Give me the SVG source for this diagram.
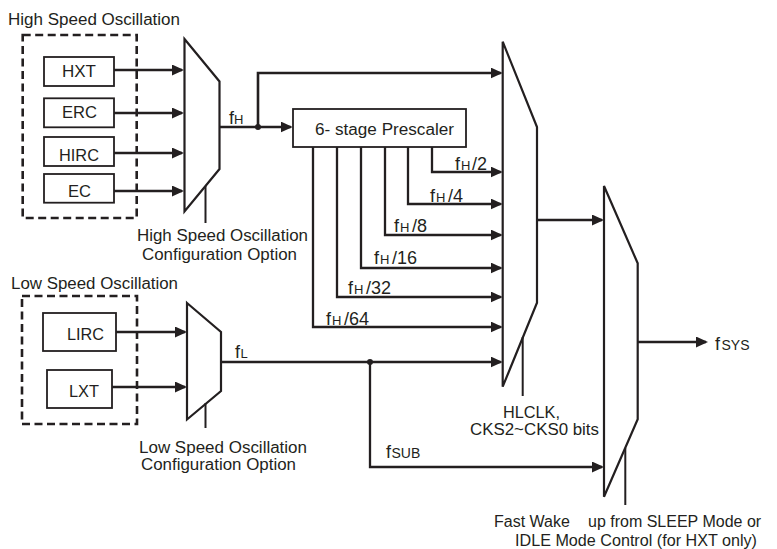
<svg xmlns="http://www.w3.org/2000/svg" width="777" height="549" viewBox="0 0 777 549">
<style>
text{font-family:"Liberation Sans",Arial,sans-serif;font-size:16px;fill:#231f20}
.sig{font-size:18px}
.sub{font-size:13px}
.sub2{font-size:14px}
.box{fill:#fff;stroke:#231f20;stroke-width:1.8}
.dash{fill:none;stroke:#231f20;stroke-width:2.6;stroke-dasharray:8 4.5}
.mux{fill:#fff;stroke:#231f20;stroke-width:2.2;stroke-linejoin:miter}
.ctl{fill:none;stroke:#231f20;stroke-width:2}
.wire{fill:none;stroke:#231f20;stroke-width:2.6;marker-end:url(#arr)}
.wire2{fill:none;stroke:#231f20;stroke-width:2.3;marker-end:url(#arr)}
.dot{fill:#231f20}
</style>
<defs>
<marker id="arr" markerUnits="userSpaceOnUse" markerWidth="14" markerHeight="12" refX="10" refY="5.5" orient="auto">
<path d="M0,0 L12,5.5 L0,11 z" fill="#231f20"/>
</marker>
</defs>
<rect width="777" height="549" fill="#fff"/>

<g id="high-speed-group">
<rect class="dash" x="22.7" y="35" width="114" height="183"/>
<text x="8" y="25" textLength="172" lengthAdjust="spacingAndGlyphs">High Speed Oscillation</text>
</g>
<g id="hxt"><rect class="box" x="44" y="57" width="70" height="29"/><text x="62" y="77" textLength="34" lengthAdjust="spacingAndGlyphs">HXT</text></g>
<g id="erc"><rect class="box" x="44" y="98.3" width="70" height="29"/><text x="62" y="118" textLength="35" lengthAdjust="spacingAndGlyphs">ERC</text></g>
<g id="hirc"><rect class="box" x="44" y="137" width="70" height="29"/><text x="59" y="161" textLength="40" lengthAdjust="spacingAndGlyphs">HIRC</text></g>
<g id="ec"><rect class="box" x="44" y="174" width="70" height="28.7"/><text x="68" y="197" textLength="23" lengthAdjust="spacingAndGlyphs">EC</text></g>

<g id="mux-high-speed">
<polygon class="mux" points="184.5,39 219.5,81.5 219.5,169 184.5,211.5"/>
<path class="ctl" d="M205.5,186 V223"/>
<text x="137" y="241" textLength="171" lengthAdjust="spacingAndGlyphs">High Speed Oscillation</text>
<text x="142" y="260" textLength="155" lengthAdjust="spacingAndGlyphs">Configuration Option</text>
</g>

<g id="prescaler">
<rect class="box" x="293" y="109" width="173" height="38"/>
<text x="315" y="135" textLength="139" lengthAdjust="spacingAndGlyphs">6- stage Prescaler</text>
</g>

<g id="low-speed-group">
<rect class="dash" x="22" y="296" width="115" height="128"/>
<text x="11" y="289" textLength="167" lengthAdjust="spacingAndGlyphs">Low Speed Oscillation</text>
</g>
<g id="lirc"><rect class="box" x="43" y="313" width="73" height="38"/><text x="67" y="340" textLength="37" lengthAdjust="spacingAndGlyphs">LIRC</text></g>
<g id="lxt"><rect class="box" x="47" y="370" width="65" height="38"/><text x="69" y="397" textLength="30" lengthAdjust="spacingAndGlyphs">LXT</text></g>

<g id="mux-low-speed">
<polygon class="mux" points="187,303 221,332 221,391 187,419.5"/>
<path class="ctl" d="M205.5,403 V428"/>
<text x="139" y="453" textLength="168" lengthAdjust="spacingAndGlyphs">Low Speed Oscillation</text>
<text x="141" y="470" textLength="155" lengthAdjust="spacingAndGlyphs">Configuration Option</text>
</g>

<g id="mux-hlclk">
<polygon class="mux" points="502.7,41.7 537,127 537,302.7 502.7,386.7"/>
<path class="ctl" d="M522.7,337 V396"/>
<text x="503" y="418" textLength="57" lengthAdjust="spacingAndGlyphs">HLCLK,</text>
<text x="470" y="435" textLength="129" lengthAdjust="spacingAndGlyphs">CKS2~CKS0 bits</text>
</g>

<g id="mux-sys">
<polygon class="mux" points="604,186 637.7,263.3 637.7,419.3 604,496.7"/>
<path class="ctl" d="M625.3,448 V505"/>
<text x="494" y="527">Fast Wake<tspan x="588">up from SLEEP Mode or</tspan></text>
<text x="515" y="546" textLength="242" lengthAdjust="spacingAndGlyphs">IDLE Mode Control (for HXT only)</text>
</g>

<g id="connectors">
<path class="wire" d="M114,70 H182"/>
<path class="wire" d="M114,113 H182"/>
<path class="wire" d="M114,153 H182"/>
<path class="wire" d="M114,191 H182"/>
<path class="wire" d="M219.5,127 H290.7"/>
<path class="wire" d="M258,127 V73 H500.7"/>
<circle class="dot" cx="258" cy="127" r="3"/>
<path class="wire2" d="M432,147 V172 H500.7"/>
<path class="wire2" d="M408,147 V204 H500.7"/>
<path class="wire2" d="M385,147 V235 H500.7"/>
<path class="wire2" d="M361,147 V268 H500.7"/>
<path class="wire2" d="M337,147 V297 H500.7"/>
<path class="wire2" d="M313,147 V327 H500.7"/>
<path class="wire" d="M116,332 H185"/>
<path class="wire" d="M112,387 H185"/>
<path class="wire2" d="M221,362 H500.7"/>
<circle class="dot" cx="370" cy="362" r="3"/>
<path class="wire2" d="M370,362 V467 H602"/>
<path class="wire" d="M537,220 H602"/>
<path class="wire" d="M637.7,342 H706"/>
</g>

<g id="labels">
<text class="sig" x="229" y="124">f<tspan class="sub" x="234">H</tspan></text>
<text class="sig" x="455" y="170">f<tspan class="sub" x="461">H</tspan><tspan x="472">/2</tspan></text>
<text class="sig" x="430" y="202">f<tspan class="sub" x="436">H</tspan><tspan x="448">/4</tspan></text>
<text class="sig" x="394" y="232">f<tspan class="sub" x="400">H</tspan><tspan x="412">/8</tspan></text>
<text class="sig" x="374" y="264">f<tspan class="sub" x="380">H</tspan><tspan x="392">/16</tspan></text>
<text class="sig" x="348" y="294">f<tspan class="sub" x="354">H</tspan><tspan x="366">/32</tspan></text>
<text class="sig" x="326" y="325">f<tspan class="sub" x="332">H</tspan><tspan x="344">/64</tspan></text>
<text class="sig" x="235" y="358">f<tspan class="sub" x="240.5">L</tspan></text>
<text class="sig" x="386" y="458">f<tspan class="sub2" x="391.5">SUB</tspan></text>
<text class="sig" x="715" y="350">f<tspan class="sub2" x="721.5">SYS</tspan></text>
</g>
</svg>
